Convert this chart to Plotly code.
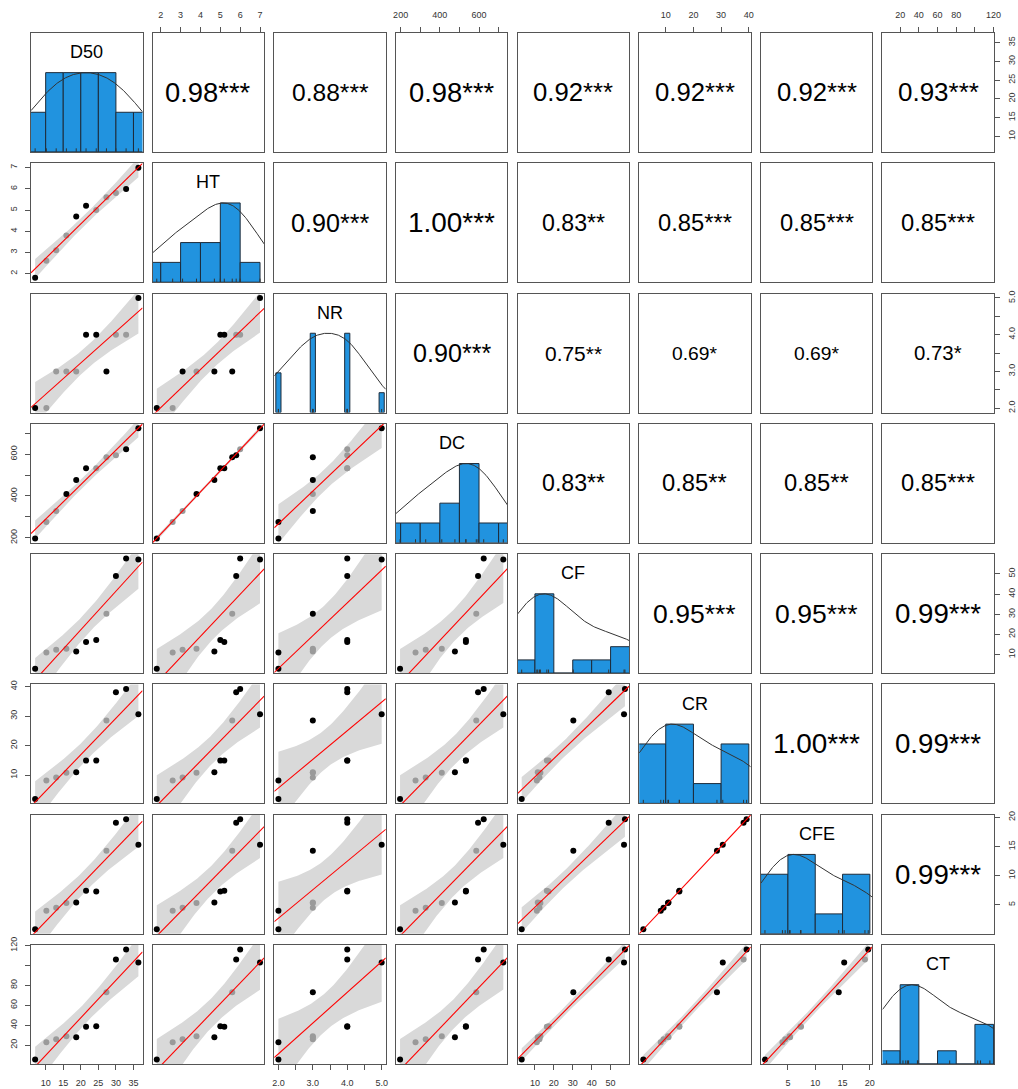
import numpy as np
import plotly.graph_objects as go

# ---------------------------------------------------------------- data
variables = ["D50", "HT", "NR", "DC", "CF", "CR", "CFE", "CT"]

D50 = [7.0, 10.2, 13.0, 15.9, 18.7, 21.5, 24.4, 27.3, 30.0, 32.9, 36.4]
HT = [1.8, 2.6, 3.1, 3.8, 4.7, 5.2, 5.0, 5.6, 5.8, 6.0, 7.0]
NR = [2, 2, 3, 3, 3, 4, 4, 3, 4, 4, 5]
DC = [197, 276, 328, 410, 477, 533, 533, 586, 595, 624, 724]
CF = [3.0, 11.0, 12.4, 12.9, 11.5, 16.3, 17.2, 30.3, 49.0, 57.6, 57.1]
CR = [1.9, 8.2, 9.2, 10.8, 11.0, 14.9, 14.9, 28.5, 38.1, 39.2, 30.6]
CFE = [0.8, 4.0, 4.5, 5.3, 5.4, 7.4, 7.3, 14.3, 19.1, 19.7, 15.3]
CT = [5.5, 23, 26, 29, 28, 38.5, 39, 73, 106, 116, 103]

# correlation coefficients with significance stars, upper triangle by row
cor_labels = [
    ["0.98***", "0.88***", "0.98***", "0.92***", "0.92***", "0.92***", "0.93***"],
    ["0.90***", "1.00***", "0.83**", "0.85***", "0.85***", "0.85***"],
    ["0.90***", "0.75**", "0.69*", "0.69*", "0.73*"],
    ["0.83**", "0.85**", "0.85**", "0.85***"],
    ["0.95***", "0.95***", "0.99***"],
    ["1.00***", "0.99***"],
    ["0.99***"],
]

tick_values = {
    "D50": [10, 15, 20, 25, 30, 35],
    "HT": [2, 3, 4, 5, 6, 7],
    "NR": [2.0, 2.5, 3.0, 3.5, 4.0, 4.5, 5.0],
    "DC": [200, 300, 400, 500, 600, 700],
    "CF": [10, 20, 30, 40, 50],
    "CR": [10, 20, 30, 40],
    "CFE": [5, 10, 15, 20],
    "CT": [20, 40, 60, 80, 100, 120],
}
tick_labels = {
    "D50": ["10", "15", "20", "25", "30", "35"],
    "HT": ["2", "3", "4", "5", "6", "7"],
    "NR": ["2.0", "", "3.0", "", "4.0", "", "5.0"],
    "DC": ["200", "", "400", "", "600", ""],
    "CF": ["10", "20", "30", "40", "50"],
    "CR": ["10", "20", "30", "40"],
    "CFE": ["5", "10", "15", "20"],
    "CT": ["20", "40", "60", "80", "", "120"],
}

data = {"D50": D50, "HT": HT, "NR": NR, "DC": DC,
        "CF": CF, "CR": CR, "CFE": CFE, "CT": CT}

# ---------------------------------------------------------------- helpers
FONT = "Liberation Sans, Arial, sans-serif"
BAR_COL = "#2193DF"
BOX_COL = "#555555"
BAND_COL = "#D9D9D9"
INSIDE_COL = "#9A9A9A"
MARKER_PX = 6
T975 = 2.262      # t quantile, 9 degrees of freedom
BW_ADJUST = 1.45  # smoothing of the density curve relative to nrd0


def r_pretty(lo, hi, n):
    """Breakpoints chosen the way R's pretty() does."""
    cell = (hi - lo) / n
    U = 10 ** np.floor(np.log10(cell))
    unit = U
    h, h5 = 1.5, 0.5 + 1.5 * 1.5
    if 2 * U - cell < h * (cell - unit):
        unit = 2 * U
        if 5 * U - cell < h5 * (cell - unit):
            unit = 5 * U
            if 10 * U - cell < h * (cell - unit):
                unit = 10 * U
    ns = np.floor(lo / unit + 1e-7)
    nu = np.ceil(hi / unit - 1e-7)
    return np.arange(ns, nu + 1) * unit


def hist_bars(v):
    v = np.asarray(v, float)
    uniq = np.unique(v)
    rng = v.max() - v.min()
    if len(uniq) <= 4:
        # few distinct values: thin bars at each value
        counts = np.array([(v == u).sum() for u in uniq], float)
        return uniq, np.full(len(uniq), 0.05 * rng), counts
    nclass = int(np.ceil(np.log2(len(v)) + 1))
    br = r_pretty(v.min(), v.max(), nclass)
    counts = []
    for i in range(len(br) - 1):
        a, b = br[i], br[i + 1]
        if i == 0:
            counts.append(((v >= a) & (v <= b)).sum())
        else:
            counts.append(((v > a) & (v <= b)).sum())
    counts = np.array(counts, float)
    return (br[:-1] + br[1:]) / 2, np.diff(br), counts


def bw_nrd0(v):
    v = np.asarray(v, float)
    sd = np.std(v, ddof=1)
    q75, q25 = np.percentile(v, [75, 25])
    lo = min(sd, (q75 - q25) / 1.34)
    if lo <= 0:
        lo = sd
    return 0.9 * lo * len(v) ** -0.2


def axis_range(v):
    lo, hi = min(v), max(v)
    pad = 0.04 * (hi - lo)
    return [lo - pad, hi + pad]


ADV = {".": 0.278, "*": 0.389}


def text_em(s):
    return sum(ADV.get(ch, 0.556) for ch in s)


# ---------------------------------------------------------------- geometry
W, H = 1018, 1089
ML, MR, MT, MB = 31, 24.2, 32.6, 24.6
PW, PH = W - ML - MR, H - MT - MB
N = len(variables)
pan_w, pan_h = 111.5, 119.0
gap_x = (PW - N * pan_w) / (N - 1)
gap_y = (PH - N * pan_h) / (N - 1)
COR_SCALE = 0.78 * pan_w / text_em("0.00***")   # font px per unit of r


def xdom(c):
    a = c * (pan_w + gap_x)
    return [max(0.0, a / PW), min(1.0, (a + pan_w) / PW)]


def ydom(r):
    a = r * (pan_h + gap_y)
    return [max(0.0, 1 - (a + pan_h) / PH), min(1.0, 1 - a / PH)]


fig = go.Figure()
layout = {}
annotations = []

for r in range(N):
    for c in range(N):
        k = r * N + c + 1
        sfx = "" if k == 1 else str(k)
        xref, yref = "x" + sfx, "y" + sfx
        vx, vy = variables[c], variables[r]
        xr = axis_range(data[vx])
        yr = [0, 1.5] if r == c else axis_range(data[vy])

        xa = dict(domain=xdom(c), range=xr, anchor=yref, showgrid=False,
                  zeroline=False, showline=True, mirror=True,
                  linecolor=BOX_COL, linewidth=1, ticks="",
                  showticklabels=False, fixedrange=True, automargin=False)
        ya = dict(domain=ydom(r), range=yr, anchor=xref, showgrid=False,
                  zeroline=False, showline=True, mirror=True,
                  linecolor=BOX_COL, linewidth=1, ticks="",
                  showticklabels=False, fixedrange=True, automargin=False)

        tick_style = dict(ticks="outside", ticklen=5, tickcolor=BOX_COL,
                          tickwidth=1, showticklabels=True,
                          tickfont=dict(family=FONT, size=9, color="#333333"))
        if r == 0 and c % 2 == 1:
            xa.update(tick_style, side="top", tickvals=tick_values[vx],
                      ticktext=tick_labels[vx], ticklabelstandoff=5)
        if r == N - 1 and c % 2 == 0:
            xa.update(tick_style, side="bottom", tickvals=tick_values[vx],
                      ticktext=tick_labels[vx], ticklabelstandoff=5)
        if c == 0 and r % 2 == 1:
            ya.update(tick_style, side="left", tickvals=tick_values[vy],
                      ticktext=tick_labels[vy], tickangle=-90,
                      ticklabelstandoff=4)
        if c == N - 1 and r % 2 == 0:
            ya.update(tick_style, side="right", tickvals=tick_values[vy],
                      ticktext=tick_labels[vy], tickangle=-90,
                      ticklabelstandoff=4)

        layout["xaxis" + sfx] = xa
        layout["yaxis" + sfx] = ya

        if r == c:
            # histogram with density curve and rug
            v = np.asarray(data[vx], float)
            centers, widths, counts = hist_bars(v)
            fig.add_trace(go.Bar(
                x=centers, y=counts / counts.max(), width=widths,
                marker=dict(color=BAR_COL, line=dict(color="#1d2b3a", width=1)),
                xaxis=xref, yaxis=yref, hoverinfo="skip", showlegend=False))
            bw = BW_ADJUST * bw_nrd0(v)
            gx = np.linspace(xr[0], xr[1], 200)
            dens = np.exp(-0.5 * ((gx[:, None] - v[None, :]) / bw) ** 2).sum(axis=1)
            dens = dens / dens.max()
            fig.add_trace(go.Scatter(
                x=gx, y=dens, mode="lines",
                line=dict(color="#333333", width=1),
                xaxis=xref, yaxis=yref, hoverinfo="skip", showlegend=False))
            rx, ry = [], []
            for val in v:
                rx += [val, val, None]
                ry += [0, 0.045, None]
            fig.add_trace(go.Scatter(
                x=rx, y=ry, mode="lines",
                line=dict(color="#333333", width=1),
                xaxis=xref, yaxis=yref, hoverinfo="skip", showlegend=False))
            annotations.append(dict(
                text=vx, x=0.5, y=0.84, xref=xref + " domain",
                yref=yref + " domain", showarrow=False,
                xanchor="center", yanchor="middle",
                font=dict(family=FONT, size=18, color="black")))
        elif r > c:
            # scatter with least-squares line and 95% confidence band
            x = np.asarray(data[vx], float)
            y = np.asarray(data[vy], float)
            n = len(x)
            b, a = np.polyfit(x, y, 1)
            resid = y - (a + b * x)
            s = np.sqrt((resid ** 2).sum() / (n - 2))
            xbar = x.mean()
            sxx = ((x - xbar) ** 2).sum()

            def half_width(xx):
                return T975 * s * np.sqrt(1 / n + (xx - xbar) ** 2 / sxx)

            bx = np.linspace(x.min(), x.max(), 80)
            fit = a + b * bx
            half = half_width(bx)

            fig.add_trace(go.Scatter(
                x=np.concatenate([bx, bx[::-1]]),
                y=np.concatenate([fit + half, (fit - half)[::-1]]),
                mode="lines", fill="toself", fillcolor=BAND_COL,
                line=dict(width=0, color="rgba(0,0,0,0)"),
                xaxis=xref, yaxis=yref, hoverinfo="skip", showlegend=False))
            # points sitting within the band show through it in grey
            px_x = pan_w / (xr[1] - xr[0])
            px_y = pan_h / (yr[1] - yr[0])
            tol = MARKER_PX / 6
            inside = ((half_width(x) - np.abs(resid)) * px_y >= tol) & \
                     ((x - x.min()) * px_x >= tol) & \
                     ((x.max() - x) * px_x >= tol)
            cols = [INSIDE_COL if f else "black" for f in inside]
            fig.add_trace(go.Scatter(
                x=x, y=y, mode="markers",
                marker=dict(color=cols, size=MARKER_PX, line=dict(width=0)),
                xaxis=xref, yaxis=yref, hoverinfo="skip", showlegend=False))
            fig.add_trace(go.Scatter(
                x=[xr[0], xr[1]], y=[a + b * xr[0], a + b * xr[1]],
                mode="lines", line=dict(color="#FF0000", width=1.1),
                xaxis=xref, yaxis=yref, hoverinfo="skip", showlegend=False))
        else:
            # empty trace so the panel and its axes are rendered
            fig.add_trace(go.Scatter(
                x=[None], y=[None], mode="markers",
                xaxis=xref, yaxis=yref, hoverinfo="skip", showlegend=False))
            label = cor_labels[r][c - r - 1]
            rval = abs(float(label.rstrip("*")))
            annotations.append(dict(
                text=label, x=0.5, y=0.5, xref=xref + " domain",
                yref=yref + " domain", showarrow=False,
                xanchor="center", yanchor="middle",
                font=dict(family=FONT, size=COR_SCALE * rval, color="black")))

fig.update_layout(
    template="none",
    width=W, height=H,
    margin=dict(l=ML, r=MR, t=MT, b=MB, pad=0, autoexpand=False),
    paper_bgcolor="white", plot_bgcolor="white",
    showlegend=False, barmode="overlay",
    annotations=annotations,
    **layout,
)

fig.write_html("out.html")
